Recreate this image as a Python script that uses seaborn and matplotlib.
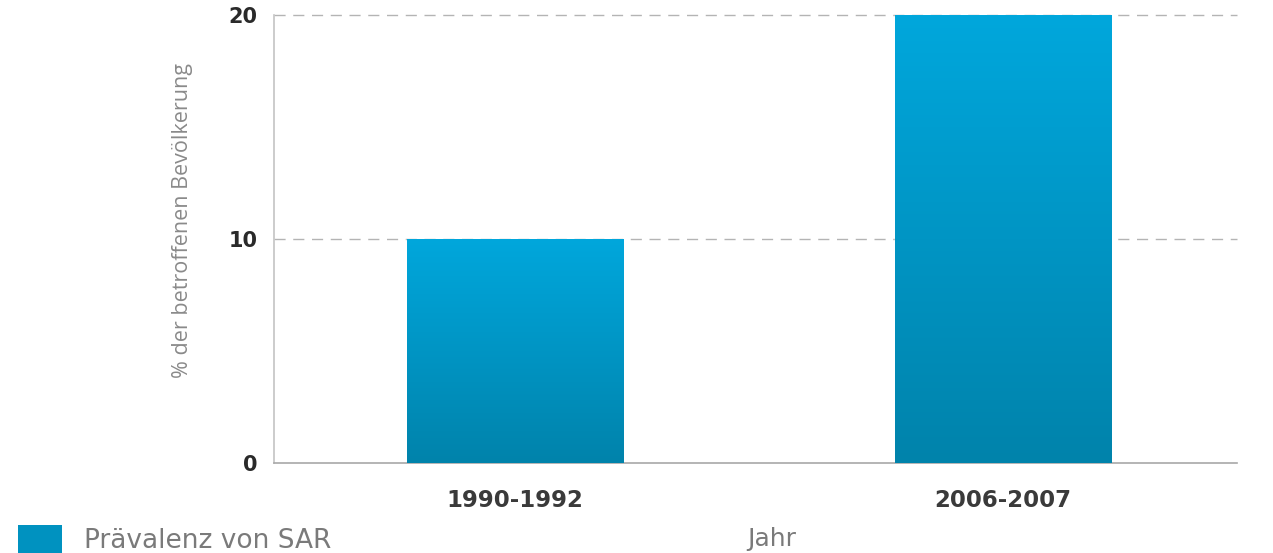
import numpy as np
import pandas as pd
import matplotlib
matplotlib.use("Agg")
import matplotlib.pyplot as plt
from matplotlib.colors import LinearSegmentedColormap
from matplotlib.patches import Patch
import seaborn as sns

# Daten
jahre = ["1990-1992", "2006-2007"]
werte = [10, 20]
ticks_y = [0, 10, 20]

df = pd.DataFrame({"Jahr": jahre, "Prozent": werte})

sns.set_style("white")
plt.rcParams["font.family"] = ["DejaVu Sans"]

fig = plt.figure(figsize=(12.73, 5.53), dpi=100)
ax = fig.add_axes([274 / 1273, 1 - 463 / 553, 963 / 1273, 448 / 553])

sns.barplot(data=df, x="Jahr", y="Prozent", color="#0095c4", width=0.443, ax=ax, zorder=2)

# Farbverlauf in den Balken (oben hell, unten dunkel)
cmap = LinearSegmentedColormap.from_list("blau", ["#0083ab", "#0095c4", "#00a7dc"])
grad = np.linspace(0, 1, 256).reshape(-1, 1)
for p in ax.patches:
    x0, y0 = p.get_x(), p.get_y()
    w, h = p.get_width(), p.get_height()
    im = ax.imshow(grad, cmap=cmap, origin="lower", aspect="auto",
                   extent=(x0, x0 + w, y0, y0 + h), zorder=3)
    im.set_clip_path(p)

ax.set_xlim(-0.494, 1.48)
ax.set_ylim(0, 20)
ax.set_yticks(ticks_y)

# Gitterlinien
ax.yaxis.grid(True, linestyle=(0, (8, 5.5)), color="#b4b4b4", linewidth=1)
ax.set_axisbelow(True)
for gl in ax.get_ygridlines():
    gl.set_clip_on(False)
ax.get_ygridlines()[0].set_visible(False)

sns.despine(ax=ax, top=True, right=True)
ax.spines["left"].set_color("#c4c4c4")
ax.spines["bottom"].set_color("#a8a8a8")
ax.spines["left"].set_linewidth(1.2)
ax.spines["bottom"].set_linewidth(1.2)

ax.tick_params(axis="both", length=0)
ax.tick_params(axis="x", pad=19)
ax.tick_params(axis="y", pad=12)
for lab in ax.get_xticklabels():
    lab.set_fontsize(16.5)
    lab.set_fontweight("bold")
    lab.set_color("#3a3a3a")
for lab in ax.get_yticklabels():
    lab.set_fontsize(15)
    lab.set_fontweight("bold")
    lab.set_color("#2a2a2a")

ax.set_ylabel("% der betroffenen Bevölkerung", fontsize=15.5, color="#8a8a8a",
              family=["Open Sans", "DejaVu Sans"])
ax.yaxis.set_label_coords(-0.084, 0.542)
ax.set_xlabel("Jahr", fontsize=18, color="#7a7a7a")
ax.xaxis.set_label_coords(0.517, -0.142)

# Legende
handle = Patch(facecolor="#0092c0", edgecolor="none")
fig.legend([handle], ["Prävalenz von SAR"], loc="lower left",
           bbox_to_anchor=(0.0, -0.035), frameon=False, fontsize=19,
           handlelength=1.65, handleheight=1.3, handletextpad=0.85,
           borderaxespad=0.3, labelcolor="#7a7a7a")

fig.savefig("out.png", dpi=100)
